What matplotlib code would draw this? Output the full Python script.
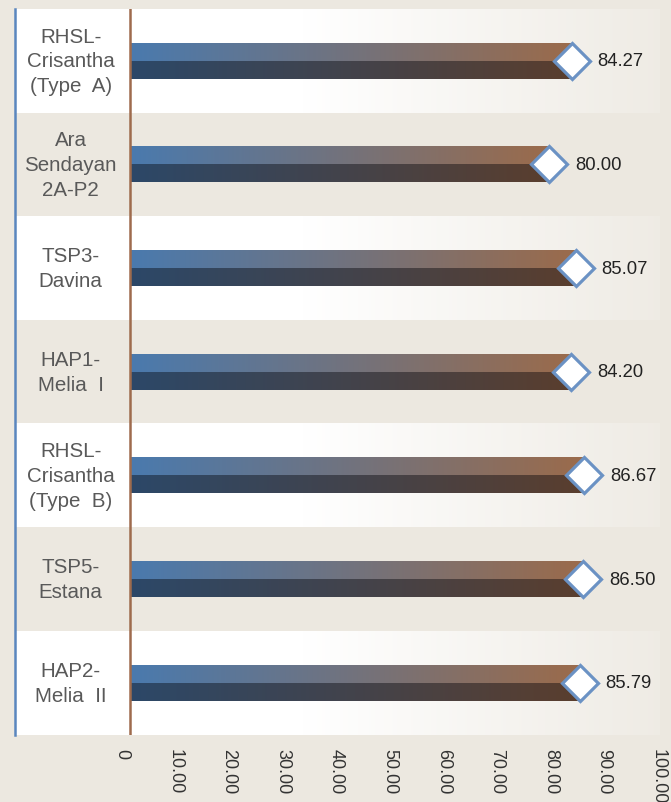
import numpy as np
import matplotlib
matplotlib.use("Agg")
import matplotlib.pyplot as plt
from matplotlib.transforms import ScaledTranslation

categories = ["RHSL-\nCrisantha\n(Type  A)", "Ara\nSendayan\n2A-P2", "TSP3-\nDavina",
              "HAP1-\nMelia  I", "RHSL-\nCrisantha\n(Type  B)", "TSP5-\nEstana",
              "HAP2-\nMelia  II"]
values = [84.27, 80.00, 85.07, 84.20, 86.67, 86.50, 85.79]
tick_values = [0, 10, 20, 30, 40, 50, 60, 70, 80, 90, 100]
tick_labels = ["0", "10.00", "20.00", "30.00", "40.00", "50.00", "60.00",
               "70.00", "80.00", "90.00", "100.00"]

plt.rcParams['font.family'] = ['Liberation Sans', 'DejaVu Sans']

BG = "#ECE8E0"
fig = plt.figure(figsize=(6.71, 8.03), dpi=100, facecolor=BG)
W, H = 671, 803
ax = fig.add_axes([15 / W, (803 - 735.5) / H, (660 - 15) / W, (735.5 - 10) / H])
ax.set_facecolor(BG)

n = len(categories)
xmin, xmax = -21.95, 101.1
ax.set_xlim(xmin, xmax)
ax.set_ylim(n - 0.5, -0.5)

# alternating row backgrounds (white fading to beige on the right)
grad_x = np.linspace(0, 1, 256)
alpha = np.where(grad_x < 0.45, 1.0, 1.0 - (grad_x - 0.45) / 0.55 * 0.85)
row_img = np.ones((1, 256, 4))
row_img[0, :, 3] = alpha
for i in range(n):
    if i % 2 == 0:
        ax.imshow(row_img, extent=[xmin, xmax, i + 0.5, i - 0.5], aspect='auto',
                  zorder=0.5, interpolation='bilinear')

# bar gradients
def grad(c0, c1):
    c0 = np.array(matplotlib.colors.to_rgb(c0))
    c1 = np.array(matplotlib.colors.to_rgb(c1))
    t = np.linspace(0, 1, 256)[:, None]
    return (c0 + (c1 - c0) * t)[None, :, :]

top_img = grad("#4A7AAE", "#9B6B4B")
bot_img = grad("#2C4868", "#5A3E2E")

half = 0.174
y = np.arange(n)
top_bars = ax.barh(y - half / 2, values, height=half, left=0, facecolor='none',
                   edgecolor='none', zorder=2)
bot_bars = ax.barh(y + half / 2, values, height=half, left=0, facecolor='none',
                   edgecolor='none', zorder=2)
for i, v in enumerate(values):
    im = ax.imshow(top_img, extent=[0, v, i, i - half], aspect='auto', zorder=2,
                   interpolation='bilinear')
    im.set_clip_path(top_bars[i])
    im2 = ax.imshow(bot_img, extent=[0, v, i + half, i], aspect='auto', zorder=2,
                    interpolation='bilinear')
    im2.set_clip_path(bot_bars[i])

ax.set_xlim(xmin, xmax)
ax.set_ylim(n - 0.5, -0.5)

# diamond markers
ax.plot(values, y, linestyle='none', marker='D', ms=18.2, mfc='white',
        mec='#6B92C4', mew=2.3, zorder=4, clip_on=False)

# value labels
for i, v in enumerate(values):
    ax.annotate(f"{v:.2f}", (v, i), xytext=(18.5, 0), textcoords='offset points',
                ha='left', va='center', fontsize=13.3, color='#222222', zorder=5)

# category labels
for i, c in enumerate(categories):
    ax.text(-11.35, i, c, ha='center', va='center', multialignment='center',
            fontsize=14.8, color='#595959', linespacing=1.38, zorder=5)

# zero line
ax.axvline(0, color='#9E6B4D', lw=1.8, zorder=3)

# spines
for s in ['top', 'right', 'bottom']:
    ax.spines[s].set_visible(False)
ax.spines['left'].set_color('#5A86BE')
ax.spines['left'].set_linewidth(1.8)

ax.set_yticks([])
ax.set_xticks(tick_values)
ax.set_xticklabels(tick_labels, rotation=-90, fontsize=13, color='#333333')
ax.tick_params(axis='x', length=0, pad=9.5)
for k, lab in enumerate(ax.get_xticklabels()):
    dx = (-8.5 + 1.2 * k) / 100.0
    lab.set_transform(lab.get_transform() + ScaledTranslation(dx, 0, fig.dpi_scale_trans))

fig.savefig("out.png", dpi=100, facecolor=BG)
